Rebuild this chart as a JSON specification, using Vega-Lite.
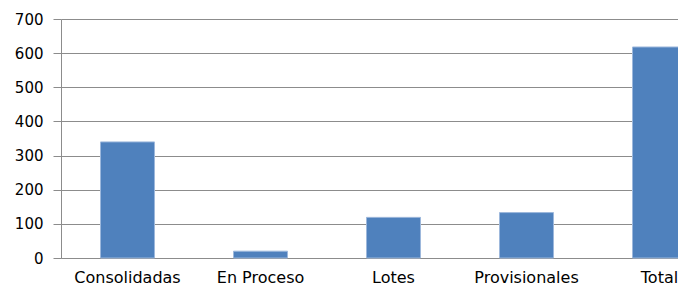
{
  "$schema": "https://vega.github.io/schema/vega-lite/v6.json",
  "width": 617,
  "height": 239,
  "autosize": {"type": "none"},
  "padding": {"left": 61, "top": 19, "right": 0, "bottom": 28},
  "background": "white",
  "config": {"view": {"stroke": null}},
  "data": {"values": [
    {"categoria": "Consolidadas", "valor": 340},
    {"categoria": "En Proceso", "valor": 20},
    {"categoria": "Lotes", "valor": 119},
    {"categoria": "Provisionales", "valor": 133},
    {"categoria": "Total", "valor": 618}
  ]},
  "mark": {"type": "bar", "color": "#4F81BD", "stroke": "#9DB8DC", "strokeWidth": 1},
  "encoding": {
    "x": {
      "field": "categoria", "type": "nominal", "sort": null,
      "scale": {"range": [0, 665], "paddingInner": 0.594, "paddingOuter": 0.297},
      "axis": {
        "title": null, "labelAngle": 0, "ticks": false, "domainColor": "#8C8C8C",
        "labelFont": "DejaVu Sans", "labelFontSize": 16, "labelColor": "#000000",
        "labelPadding": 11, "labelBaseline": "top", "labelOverlap": false, "labelBound": false,
        "labelFlush": false
      }
    },
    "y": {
      "field": "valor", "type": "quantitative",
      "scale": {"domain": [0, 700], "nice": false},
      "axis": {
        "title": null, "values": [0, 100, 200, 300, 400, 500, 600, 700],
        "grid": true, "gridColor": "#8C8C8C", "domainColor": "#8C8C8C",
        "tickColor": "#8C8C8C", "tickSize": 8, "labelPadding": 10,
        "labelFont": "DejaVu Sans", "labelFontSize": 15, "labelColor": "#000000"
      }
    }
  }
}
